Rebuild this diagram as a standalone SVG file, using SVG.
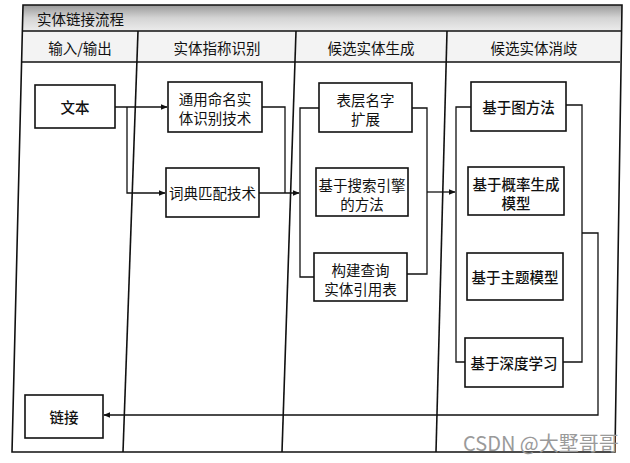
<svg xmlns="http://www.w3.org/2000/svg" width="630" height="463" viewBox="0 0 630 463">
<defs>
<linearGradient id="tg" x1="0" y1="0" x2="0" y2="1">
<stop offset="0" stop-color="#9a9a9a"/>
<stop offset="0.5" stop-color="#d4d4d4"/>
<stop offset="1" stop-color="#ececec"/>
</linearGradient>
<marker id="ah" viewBox="0 0 10 10" refX="9" refY="5" markerWidth="7" markerHeight="7" orient="auto" markerUnits="userSpaceOnUse">
<path d="M0,1 L10,5 L0,9 Z" fill="#111"/>
</marker>
<style>
text{font-family:"Noto Sans CJK SC","Noto Sans",sans-serif;fill:#111;text-anchor:middle;dominant-baseline:central}
.hd{font-size:14.5px}
.bx{font-size:14.5px}
.b{font-weight:500}
rect.n{fill:#fff;stroke:#111;stroke-width:1.6}
.fr{fill:none;stroke:#111;stroke-width:1.6}
.cn path{fill:none;stroke:#111;stroke-width:1.3}
</style>
</defs>
<rect width="630" height="463" fill="#fff"/>
<g id="frame">
<polygon points="23,5 622,5 621,31 22,31" fill="url(#tg)"/>
<polygon points="22,31 621,31 620,62 21,62" fill="#f3f3f3"/>
<polygon class="fr" points="23,5 622,5 615,452 12,452"/>
<line class="fr" x1="22" y1="31" x2="621" y2="31"/>
<line class="fr" x1="21" y1="62" x2="620" y2="62"/>
<line class="fr" x1="138" y1="31" x2="123" y2="452"/>
<line class="fr" x1="296" y1="31" x2="282" y2="452"/>
<line class="fr" x1="447" y1="31" x2="436" y2="452"/>
<text x="37" y="18" class="hd" style="text-anchor:start">实体链接流程</text>
<text x="80" y="47" class="hd">输入/输出</text>
<text x="217" y="47" class="hd">实体指称识别</text>
<text x="371" y="47" class="hd">候选实体生成</text>
<text x="534" y="47" class="hd">候选实体消歧</text>
</g>
<g class="cn" id="connectors">
<path d="M115,107 H167" marker-end="url(#ah)"/>
<path d="M127,107 V193 H165" marker-end="url(#ah)"/>
<path d="M262,107 H285 V193"/>
<path d="M259,193 H299" marker-end="url(#ah)"/>
<path d="M319,108 H300 V277 H314"/>
<path d="M412,108 H427 V274 H407"/>
<path d="M427,192 H455" marker-end="url(#ah)"/>
<path d="M471,107 H456 V362 H465"/>
<path d="M566,105 H582 V362 H563"/>
<path d="M582,233 H598 V415 H104" marker-end="url(#ah)"/>
</g>
<g id="n-text"><rect class="n" x="35" y="85" width="80" height="43"/><text x="75" y="106.5" class="bx b">文本</text></g>
<g id="n-ner"><rect class="n" x="168" y="82" width="94" height="50"/><text x="215" y="98" class="bx">通用命名实</text><text x="215" y="117" class="bx">体识别技术</text></g>
<g id="n-dict"><rect class="n" x="166" y="168" width="93" height="49"/><text x="212.5" y="192.5" class="bx">词典匹配技术</text></g>
<g id="n-surface"><rect class="n" x="319" y="83" width="93" height="49"/><text x="365.5" y="99" class="bx">表层名字</text><text x="365.5" y="118" class="bx">扩展</text></g>
<g id="n-search"><rect class="n" x="316" y="168" width="92" height="48"/><text x="362" y="184" class="bx">基于搜索引擎</text><text x="362" y="203" class="bx">的方法</text></g>
<g id="n-query"><rect class="n" x="314" y="253" width="93" height="48"/><text x="360.5" y="269" class="bx">构建查询</text><text x="360.5" y="288" class="bx">实体引用表</text></g>
<g id="n-graph"><rect class="n" x="471" y="82" width="95" height="49"/><text x="518.5" y="106.5" class="bx b">基于图方法</text></g>
<g id="n-prob"><rect class="n" x="468" y="167" width="96" height="48"/><text x="516" y="183" class="bx b">基于概率生成</text><text x="516" y="202" class="bx b">模型</text></g>
<g id="n-topic"><rect class="n" x="467" y="253" width="96" height="47"/><text x="515" y="276.5" class="bx b">基于主题模型</text></g>
<g id="n-deep"><rect class="n" x="465" y="338" width="98" height="49"/><text x="514" y="362.5" class="bx b">基于深度学习</text></g>
<g id="n-link"><rect class="n" x="25" y="395" width="78" height="43"/><text x="64" y="416.5" class="bx b">链接</text></g>
<text x="463" y="442" style="text-anchor:start;font-size:20px;fill:#9a9a9a;font-family:'Noto Sans CJK SC','Noto Sans',sans-serif">CSDN @大墅哥哥</text>
</svg>
